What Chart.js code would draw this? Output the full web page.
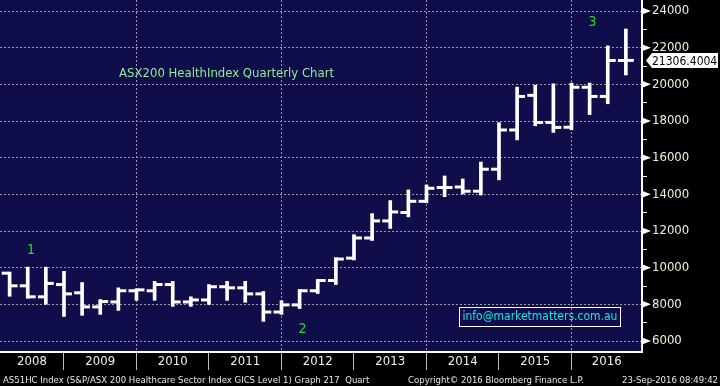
<!DOCTYPE html>
<html>
<head>
<meta charset="utf-8">
<script src="https://cdn.jsdelivr.net/npm/chart.js@4.4.1/dist/chart.umd.min.js"></script>
<style>
  html, body { margin: 0; padding: 0; background: #000; }
  #wrap { width: 720px; height: 386px; }
</style>
</head>
<body>
<div id="wrap"><canvas id="myChart"></canvas></div>
<script>
// Quarterly OHLC, ASX200 Health Care index
const quarters = [
  "2008 Q1", "2008 Q2", "2008 Q3", "2008 Q4",
  "2009 Q1", "2009 Q2", "2009 Q3", "2009 Q4",
  "2010 Q1", "2010 Q2", "2010 Q3", "2010 Q4",
  "2011 Q1", "2011 Q2", "2011 Q3", "2011 Q4",
  "2012 Q1", "2012 Q2", "2012 Q3", "2012 Q4",
  "2013 Q1", "2013 Q2", "2013 Q3", "2013 Q4",
  "2014 Q1", "2014 Q2", "2014 Q3", "2014 Q4",
  "2015 Q1", "2015 Q2", "2015 Q3", "2015 Q4",
  "2016 Q1", "2016 Q2", "2016 Q3"
];
const openQ = [
  9700, 9010, 8410, 9080, 8630, 7860, 8130, 8740,
  8740, 9080, 8130, 8240, 8960, 8900, 8570, 7580,
  7970, 8740, 9300, 10520, 11620, 12550, 13010, 13620,
  14370, 14400, 14170, 15370, 17510, 19400, 17920, 17660,
  19840, 19340, 21300
];
const highQ = [
  9760, 10030, 10030, 9800, 9190, 8260, 8900, 8850,
  9250, 9250, 8410, 9080, 9250, 9250, 8700, 8200,
  8810, 9360, 10550, 11800, 12950, 13660, 14240, 14510,
  15000, 14840, 15760, 17910, 19850, 19960, 20030, 20070,
  20070, 22100, 23020
];
const lowQ = [
  8440, 8330, 8000, 7340, 7400, 7450, 7670, 8220,
  8220, 7890, 7890, 7990, 8220, 8110, 7070, 7450,
  7770, 8590, 9080, 10420, 11480, 12140, 12770, 13540,
  13870, 14020, 13960, 14790, 16970, 17740, 17380, 17520,
  18350, 18940, 20510
];
const closeQ = [
  9010, 8410, 9140, 8570, 7860, 8150, 8740, 8790,
  9080, 8130, 8240, 8960, 8900, 8570, 7580, 7970,
  8740, 9300, 10470, 11620, 12550, 13040, 13620, 14330,
  14370, 14170, 15370, 17510, 19340, 17920, 17650, 19840,
  19340, 21300, 21306.4004
];
const years = [2008, 2009, 2010, 2011, 2012, 2013, 2014, 2015, 2016];
const yMajor = [6000, 8000, 10000, 12000, 14000, 16000, 18000, 20000, 22000, 24000];
const lastPriceText = "21306.4004";
const chartTitle = "ASX200 HealthIndex Quarterly Chart";
const waveLabels = ["1", "2", "3"];
const infoText = "info@marketmatters.com.au";
const footerLeft = "AS51HC Index (S&P/ASX 200 Healthcare Sector Index GICS Level 1) Graph 217  Quart";
const footerMid = "Copyright\u00a9 2016 Bloomberg Finance L.P.";
const footerRight = "23-Sep-2016 08:49:42";

const FONT = '"Liberation Sans Narrow", "Arial Narrow", "DejaVu Sans Condensed", sans-serif';
const X_MIN = -0.53, X_MAX = 34.89;
const TICK_OFF = 0.245;

// x ticks: year separators at year ends, labels centred in the visible part of each year
const xTickList = [];
years.forEach((yr, k) => {
  const start = 4 * k - 1, end = start + 4;
  const c = (Math.max(start, X_MIN) + Math.min(end, X_MAX)) / 2;
  xTickList.push({ value: c, label: String(yr), sep: false, grid: false });
  if (end < X_MAX) xTickList.push({ value: end, label: "", sep: true, grid: k % 2 === 1 });
});
xTickList.sort((a, b) => a.value - b.value);

const yAll = [];
for (let v = yMajor[0]; v <= yMajor[yMajor.length - 1]; v += 1000) yAll.push(v);

function noPad(s) {
  s.paddingLeft = 0; s.paddingRight = 0; s.paddingTop = 0; s.paddingBottom = 0;
}

const decor = {
  id: "decor",
  beforeDraw(chart) {
    const { ctx, chartArea: a } = chart;
    ctx.save();
    ctx.fillStyle = "#000000";
    ctx.fillRect(0, 0, chart.width, chart.height);
    ctx.fillStyle = "#0f0d4a";
    ctx.fillRect(a.left, a.top, a.right - a.left, a.bottom - a.top);
    ctx.restore();
  },
  afterDraw(chart) {
    const { ctx, chartArea: a, scales: { x, y } } = chart;
    ctx.save();
    // arrow marks on the major y ticks
    ctx.fillStyle = "#ffffff";
    yMajor.forEach(v => {
      const py = y.getPixelForValue(v);
      ctx.beginPath();
      ctx.moveTo(a.right, py - 3.5);
      ctx.lineTo(a.right + 9, py);
      ctx.lineTo(a.right, py + 3.5);
      ctx.closePath();
      ctx.fill();
    });

    // title
    ctx.textBaseline = "middle";
    ctx.textAlign = "left";
    ctx.font = "13px " + FONT;
    ctx.fillStyle = "#90ee90";
    ctx.fillText(chartTitle, x.getPixelForValue(6.04), y.getPixelForValue(20565));

    // wave counts
    const wavePos = [[1.18, 10950], [16.16, 6640], [32.16, 23400]];
    ctx.font = "14px " + FONT;
    ctx.fillStyle = "#1fe01f";
    ctx.textAlign = "center";
    waveLabels.forEach((t, i) => {
      ctx.fillText(t, x.getPixelForValue(wavePos[i][0]), y.getPixelForValue(wavePos[i][1]));
    });

    // info box
    ctx.font = "12px " + FONT;
    const iw = ctx.measureText(infoText).width;
    const ix = x.getPixelForValue(29.26), iy = y.getPixelForValue(7354);
    ctx.strokeStyle = "#ffffff";
    ctx.lineWidth = 1;
    ctx.strokeRect(Math.round(ix - iw / 2 - 3) + 0.5, Math.round(iy - 9.5) + 0.5, Math.round(iw + 6), 19);
    ctx.fillStyle = "#14e6e6";
    ctx.fillText(infoText, ix, iy + 1);

    // last price tag
    const ly = y.getPixelForValue(closeQ[closeQ.length - 1]);
    ctx.fillStyle = "#ffffff";
    ctx.beginPath();
    ctx.moveTo(a.right + 4, ly);
    ctx.lineTo(a.right + 10, ly - 7.5);
    ctx.lineTo(chart.width - 2, ly - 7.5);
    ctx.lineTo(chart.width - 2, ly + 7.5);
    ctx.lineTo(a.right + 10, ly + 7.5);
    ctx.closePath();
    ctx.fill();
    ctx.fillStyle = "#000000";
    ctx.textAlign = "left";
    ctx.font = "12px " + FONT;
    ctx.fillText(lastPriceText, a.right + 10, ly + 1);

    // footer
    ctx.font = "9.5px " + FONT;
    ctx.fillStyle = "#e6e6e6";
    ctx.textBaseline = "alphabetic";
    ctx.fillText(footerLeft, 3, 382.5);
    ctx.fillText(footerMid, 408, 382.5);
    ctx.textAlign = "right";
    ctx.fillText(footerRight, 718, 382.5);
    ctx.restore();
  }
};

drawChart();
function drawChart() {
  const idx = quarters.map((q, i) => i);
  const config = {
    type: "bar",
    data: {
      datasets: [
        {
          label: "High-Low",
          data: idx.map(i => ({ x: i, y: [lowQ[i], highQ[i]] })),
          backgroundColor: "#ffffff",
          borderWidth: 0,
          barThickness: 3,
          grouped: false
        },
        {
          type: "scatter",
          label: "Open",
          data: idx.map(i => ({ x: i - TICK_OFF, y: openQ[i] })),
          pointStyle: "line",
          radius: 3.5,
          hoverRadius: 3.5,
          borderWidth: 3,
          borderColor: "#ffffff",
          backgroundColor: "#ffffff"
        },
        {
          type: "scatter",
          label: "Close",
          data: idx.map(i => ({ x: i + TICK_OFF, y: closeQ[i] })),
          pointStyle: "line",
          radius: 3.5,
          hoverRadius: 3.5,
          borderWidth: 3,
          borderColor: "#ffffff",
          backgroundColor: "#ffffff"
        }
      ]
    },
    options: {
      responsive: true,
      maintainAspectRatio: false,
      animation: false,
      layout: { padding: 0, autoPadding: false },
      plugins: { legend: { display: false }, tooltip: { enabled: false } },
      scales: {
        x: {
          type: "linear",
          min: X_MIN,
          max: X_MAX,
          offset: false,
          afterBuildTicks: s => { s.ticks = xTickList.map(t => ({ value: t.value })); },
          afterFit: s => { s.height = 34; noPad(s); },
          ticks: {
            autoSkip: false,
            maxRotation: 0,
            color: "#f0f0f0",
            font: { family: FONT, size: 13 },
            padding: -16,
            callback: (v, i) => (xTickList[i] ? xTickList[i].label : "")
          },
          grid: {
            offset: false,
            lineWidth: 1,
            color: c => (c.tick && xTickList[c.index] && xTickList[c.index].grid ? "#9a9aa8" : "transparent"),
            tickColor: c => (c.tick && xTickList[c.index] && xTickList[c.index].sep ? "#bdbdbd" : "transparent"),
            tickLength: 18
          },
          border: { color: "#ffffff", width: 2, dash: [2, 2] }
        },
        y: {
          position: "right",
          min: 5400,
          max: 24600,
          afterBuildTicks: s => { s.ticks = yAll.map(v => ({ value: v })); },
          afterFit: s => { s.width = 78; noPad(s); },
          ticks: {
            autoSkip: false,
            color: "#f4efd8",
            font: { family: FONT, size: 13 },
            padding: 5,
            callback: v => (yMajor.includes(v) ? String(v) : "")
          },
          grid: {
            lineWidth: 1,
            color: c => (c.tick && yMajor.includes(c.tick.value) ? "#9a9aa8" : "transparent"),
            tickColor: "#ffffff",
            tickLength: 5
          },
          border: { color: "#ffffff", width: 2, dash: [2, 2] }
        }
      }
    },
    plugins: [decor]
  };
  const myChart = new Chart(document.getElementById("myChart"), config);
}
</script>
</body>
</html>
